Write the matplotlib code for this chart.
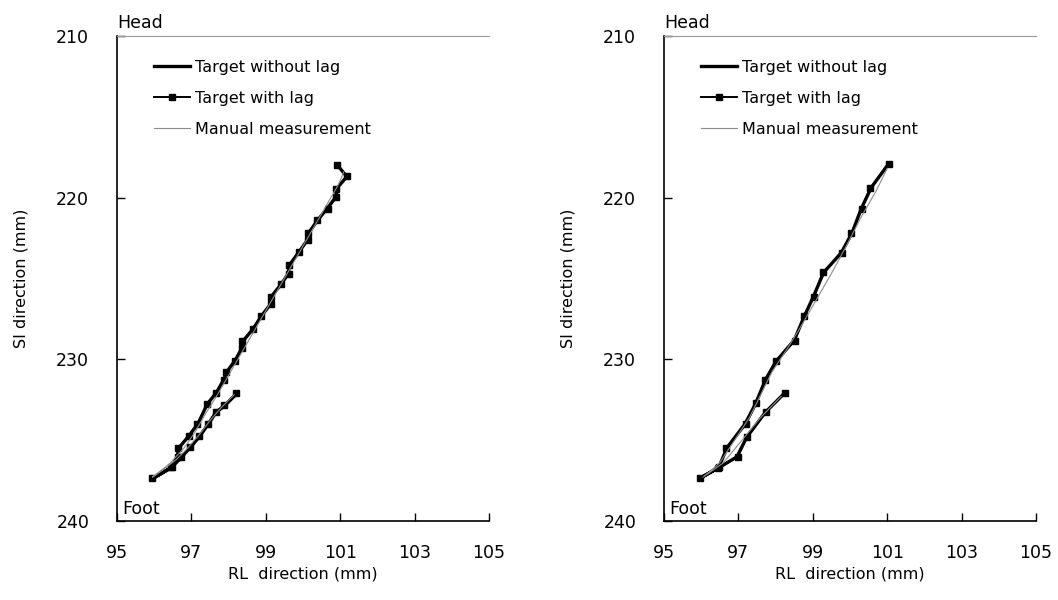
import matplotlib
matplotlib.use("Agg")
import matplotlib.pyplot as plt

# left panel: target with lag (marker positions)
L_lag_x = [98.20, 97.88, 97.65, 97.45, 97.20, 96.97, 96.71, 96.45, 95.93,
           96.47, 96.64, 96.64, 96.93, 97.16, 97.43, 97.66, 97.88, 97.94, 98.17,
           98.37, 98.37, 98.66, 98.87, 99.13, 99.13, 99.41, 99.62, 99.62, 99.89,
           100.14, 100.14, 100.38, 100.66, 100.90, 100.90, 101.18, 100.92]
L_lag_y = [232.10, 232.84, 233.26, 233.98, 234.76, 235.42, 236.08, 236.70, 237.38,
           236.68, 236.04, 235.52, 234.76, 234.02, 232.78, 232.08, 231.26, 230.79, 230.10,
           229.28, 228.87, 228.16, 227.34, 226.60, 226.15, 225.36, 224.70, 224.19, 223.36,
           222.60, 222.19, 221.40, 220.68, 219.96, 219.44, 218.68, 218.00]
# left panel: target without lag
L_nolag_x = [98.22, 97.90, 97.66, 97.46, 97.22, 96.98, 96.72, 96.46, 95.95,
             96.48, 96.62, 96.66, 96.94, 97.18, 97.42, 97.68, 97.86, 97.96, 98.18,
             98.36, 98.40, 98.66, 98.89, 99.12, 99.15, 99.42, 99.60, 99.64, 99.90,
             100.12, 100.16, 100.40, 100.66, 100.88, 100.92, 101.18, 100.94]
L_nolag_y = [232.14, 232.86, 233.30, 234.00, 234.78, 235.44, 236.10, 236.72, 237.40,
             236.66, 236.00, 235.50, 234.72, 233.98, 232.80, 232.04, 231.30, 230.76, 230.06,
             229.30, 228.84, 228.12, 227.30, 226.62, 226.12, 225.34, 224.72, 224.16, 223.34,
             222.62, 222.16, 221.38, 220.64, 219.98, 219.40, 218.70, 218.04]
# left panel: manual measurement
L_man_x = [98.15, 97.80, 97.50, 97.20, 96.90, 96.60, 96.20, 95.95,
           96.40, 96.80, 97.10, 97.40, 97.70, 98.00, 98.30, 98.60, 98.90,
           99.20, 99.50, 99.80, 100.10, 100.40, 100.70, 100.95, 101.10]
L_man_y = [232.20, 233.00, 233.80, 234.70, 235.50, 236.20, 236.90, 237.30,
           236.50, 235.50, 234.50, 233.30, 232.20, 231.00, 229.80, 228.60, 227.40,
           226.20, 225.00, 223.80, 222.60, 221.40, 220.20, 219.20, 218.40]

# right panel: target with lag
R_lag_x = [98.25, 97.74, 97.23, 96.98, 96.48, 95.97, 96.46, 96.68, 97.20, 97.48,
           97.71, 98.00, 98.52, 98.75, 99.04, 99.27, 99.79, 100.04, 100.31, 100.55, 101.04]
R_lag_y = [232.08, 233.26, 234.81, 236.06, 236.70, 237.33, 236.72, 235.50, 234.03, 232.73,
           231.30, 230.10, 228.85, 227.34, 226.13, 224.62, 223.43, 222.19, 220.68, 219.41, 217.94]
# right panel: target without lag
R_nolag_x = [98.24, 97.72, 97.22, 96.96, 96.47, 95.98, 96.47, 96.70, 97.18, 97.46,
             97.73, 98.02, 98.50, 98.77, 99.02, 99.29, 99.77, 100.06, 100.30, 100.57, 101.02]
R_nolag_y = [232.10, 233.30, 234.84, 236.04, 236.72, 237.35, 236.70, 235.46, 234.00, 232.76,
             231.26, 230.12, 228.82, 227.36, 226.10, 224.64, 223.40, 222.16, 220.70, 219.38, 217.96]
# right panel: manual measurement
R_man_x = [98.15, 97.60, 97.10, 96.60, 96.05, 96.50, 96.90, 97.30, 97.60, 97.90,
           98.30, 98.70, 99.10, 99.50, 99.90, 100.30, 100.70, 101.00]
R_man_y = [232.30, 233.60, 235.00, 236.40, 237.30, 236.40, 235.00, 233.60, 232.20, 230.80,
           229.40, 227.90, 226.30, 224.70, 223.00, 221.20, 219.60, 218.20]

panels = [
    (L_nolag_x, L_nolag_y, L_lag_x, L_lag_y, L_man_x, L_man_y),
    (R_nolag_x, R_nolag_y, R_lag_x, R_lag_y, R_man_x, R_man_y),
]
xticks = [95, 97, 99, 101, 103, 105]
yticks = [210, 220, 230, 240]

fig = plt.figure(figsize=(10.58, 6.0), dpi=100)
rects = [[117/1058, 0.132, 372/1058, 0.808],
         [664/1058, 0.132, 372/1058, 0.808]]

for rect, (nx, ny, lx, ly, mx, my) in zip(rects, panels):
    ax = fig.add_axes(rect)
    ax.plot(nx, ny, "-", color="black", lw=2.4, label="Target without lag")
    ax.plot(lx, ly, "-s", color="black", lw=1.4, markersize=4, label="Target with lag")
    ax.plot(mx, my, "-", color="#8c8c8c", lw=0.8, label="Manual measurement")

    ax.set_xlim(95, 105)
    ax.set_ylim(240, 210)
    ax.set_xticks(xticks)
    ax.set_yticks(yticks)
    ax.tick_params(direction="in", length=6, width=1, labelsize=12.5)
    ax.tick_params(axis="x", pad=17)
    ax.tick_params(axis="y", pad=20)
    ax.spines["right"].set_visible(False)
    ax.spines["top"].set_color("#999999")
    ax.spines["top"].set_linewidth(0.8)
    ax.spines["left"].set_linewidth(1.2)
    ax.spines["bottom"].set_linewidth(1.2)

    ax.set_xlabel("RL  direction (mm)", fontsize=11.5, labelpad=3)
    ax.set_ylabel("SI direction (mm)", fontsize=11.5, labelpad=20)
    ax.text(0.0, 1.008, "Head", transform=ax.transAxes, fontsize=12.5,
            ha="left", va="bottom")
    ax.text(0.015, 0.005, "Foot", transform=ax.transAxes, fontsize=12.5,
            ha="left", va="bottom")
    ax.legend(loc="upper left", bbox_to_anchor=(0.06, 0.98), frameon=False,
              fontsize=11.5, handlelength=2.3, handletextpad=0.3, labelspacing=1.0)

fig.savefig("out.png", dpi=100)
